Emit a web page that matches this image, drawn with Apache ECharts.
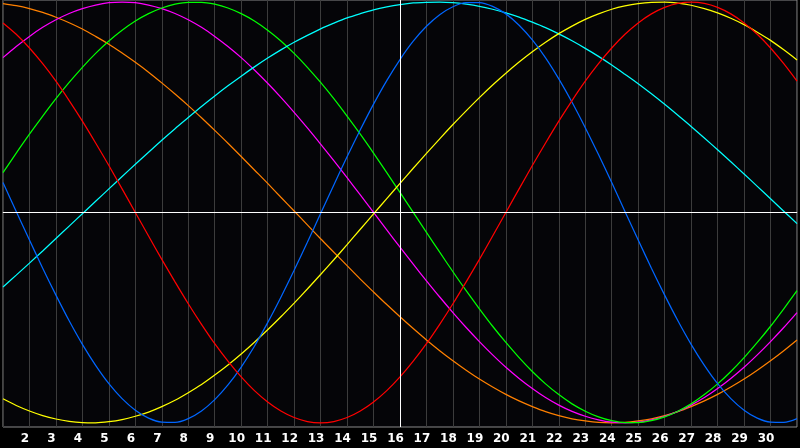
<!DOCTYPE html>
<html>
<head>
<meta charset="utf-8">
<script src="https://cdn.jsdelivr.net/npm/echarts@6/dist/echarts.min.js"></script>
<style>
html,body{margin:0;padding:0;background:#000;}
#chart{width:800px;height:448px;}
</style>
</head>
<body>
<div id="chart"></div>
<script>
const days = [1,1.5,2,2.5,3,3.5,4,4.5,5,5.5,6,6.5,7,7.5,8,8.5,9,9.5,10,10.5,11,11.5,12,12.5,13,13.5,14,14.5,15,15.5,16,16.5,17,17.5,18,18.5,19,19.5,20,20.5,21,21.5,22,22.5,23,23.5,24,24.5,25,25.5,26,26.5,27,27.5,28,28.5,29,29.5,30,30.5,31];
const tickDays = [1,2,3,4,5,6,7,8,9,10,11,12,13,14,15,16,17,18,19,20,21,22,23,24,25,26,27,28,29,30,31];
const tickLabels = ['','2','3','4','5','6','7','8','9','10','11','12','13','14','15','16','17','18','19','20','21','22','23','24','25','26','27','28','29','30',''];
const todayDay = 16;

const redValues = [0.901,0.847,0.782,0.707,0.624,0.532,0.434,0.330,0.223,0.112,0.000,-0.112,-0.223,-0.330,-0.434,-0.532,-0.624,-0.707,-0.782,-0.847,-0.901,-0.944,-0.975,-0.994,-1.000,-0.994,-0.975,-0.944,-0.901,-0.847,-0.782,-0.707,-0.624,-0.532,-0.434,-0.330,-0.223,-0.112,0.000,0.112,0.223,0.330,0.434,0.532,0.624,0.707,0.782,0.847,0.901,0.944,0.975,0.994,1.000,0.994,0.975,0.944,0.901,0.847,0.782,0.707,0.624];
const greenValues = [0.189,0.282,0.372,0.458,0.541,0.618,0.690,0.756,0.815,0.866,0.910,0.945,0.972,0.990,0.999,0.999,0.990,0.972,0.945,0.910,0.866,0.815,0.756,0.690,0.618,0.541,0.458,0.372,0.282,0.189,0.095,0.000,-0.095,-0.189,-0.282,-0.372,-0.458,-0.541,-0.618,-0.690,-0.756,-0.815,-0.866,-0.910,-0.945,-0.972,-0.990,-0.999,-0.999,-0.990,-0.972,-0.945,-0.910,-0.866,-0.815,-0.756,-0.690,-0.618,-0.541,-0.458,-0.372];
const magentaValues = [0.736,0.789,0.837,0.880,0.916,0.946,0.969,0.986,0.997,1.000,0.997,0.986,0.969,0.946,0.916,0.880,0.837,0.789,0.736,0.677,0.614,0.547,0.476,0.402,0.325,0.246,0.165,0.083,0.000,-0.083,-0.165,-0.246,-0.325,-0.402,-0.476,-0.547,-0.614,-0.677,-0.736,-0.789,-0.837,-0.880,-0.916,-0.946,-0.969,-0.986,-0.997,-1.000,-0.997,-0.986,-0.969,-0.946,-0.916,-0.880,-0.837,-0.789,-0.736,-0.677,-0.614,-0.547,-0.476];
const orangeValues = [0.993,0.983,0.969,0.951,0.928,0.902,0.872,0.837,0.800,0.758,0.714,0.667,0.616,0.563,0.508,0.450,0.390,0.329,0.266,0.202,0.138,0.072,0.007,-0.059,-0.125,-0.189,-0.253,-0.317,-0.378,-0.438,-0.496,-0.552,-0.606,-0.657,-0.705,-0.750,-0.792,-0.830,-0.865,-0.896,-0.923,-0.947,-0.966,-0.981,-0.991,-0.998,-1.000,-0.998,-0.991,-0.981,-0.966,-0.947,-0.923,-0.896,-0.865,-0.830,-0.792,-0.750,-0.705,-0.657,-0.606];
const blueValues = [0.142,0.005,-0.131,-0.265,-0.393,-0.515,-0.627,-0.727,-0.814,-0.885,-0.940,-0.978,-0.997,-0.998,-0.980,-0.944,-0.890,-0.820,-0.735,-0.636,-0.524,-0.403,-0.275,-0.142,-0.005,0.131,0.265,0.393,0.515,0.627,0.727,0.814,0.885,0.940,0.978,0.997,0.998,0.980,0.944,0.890,0.820,0.735,0.635,0.524,0.403,0.275,0.142,0.005,-0.131,-0.265,-0.393,-0.515,-0.627,-0.727,-0.814,-0.885,-0.940,-0.978,-0.997,-0.998,-0.980];
const yellowValues = [-0.886,-0.918,-0.944,-0.966,-0.982,-0.993,-0.999,-1.000,-0.995,-0.985,-0.969,-0.949,-0.923,-0.893,-0.857,-0.818,-0.773,-0.725,-0.673,-0.617,-0.558,-0.496,-0.431,-0.364,-0.295,-0.225,-0.153,-0.080,-0.007,0.066,0.138,0.210,0.281,0.350,0.418,0.483,0.546,0.606,0.662,0.715,0.764,0.809,0.850,0.886,0.918,0.944,0.966,0.982,0.993,0.999,1.000,0.995,0.985,0.969,0.949,0.923,0.893,0.857,0.818,0.773,0.725];
const cyanValues = [-0.354,-0.298,-0.241,-0.183,-0.124,-0.065,-0.006,0.053,0.112,0.171,0.229,0.286,0.343,0.398,0.451,0.504,0.554,0.602,0.648,0.692,0.734,0.773,0.809,0.842,0.873,0.900,0.925,0.945,0.963,0.977,0.988,0.996,0.999,1.000,0.997,0.990,0.980,0.966,0.949,0.929,0.905,0.879,0.849,0.816,0.780,0.742,0.701,0.657,0.612,0.564,0.514,0.462,0.409,0.354,0.298,0.241,0.183,0.124,0.065,0.006,-0.053];

const seriesDefs = [
  {name:'orange', color:'#ff8000', values: orangeValues},
  {name:'magenta', color:'#ff00ff', values: magentaValues},
  {name:'green', color:'#00ff00', values: greenValues},
  {name:'cyan', color:'#00ffff', values: cyanValues},
  {name:'yellow', color:'#ffff00', values: yellowValues},
  {name:'blue', color:'#0066ff', values: blueValues},
  {name:'red', color:'#ff0000', values: redValues}
];

const chart = echarts.init(document.getElementById('chart'), null, {renderer:'canvas'});
const series = seriesDefs.map(function(s){
  return {
    name: s.name,
    type: 'line',
    data: days.map(function(d,i){ return [d, s.values[i]]; }),
    smooth: 0.3,
    showSymbol: false,
    symbol: 'none',
    lineStyle: {color: s.color, width: 1.25},
    itemStyle: {color: s.color},
    silent: true
  };
});
series.push({
  type: 'line',
  data: [],
  silent: true,
  markLine: {
    silent: true,
    symbol: ['none','none'],
    label: {show:false},
    lineStyle: {color:'#ffffff', width:1, type:'solid'},
    data: [{xAxis: todayDay}, {yAxis: 0}]
  }
});

chart.setOption({
  animation: false,
  backgroundColor: '#000000',
  grid: {
    left: 0, right: 0, top: 0, bottom: 21,
    show: true,
    backgroundColor: '#050508',
    borderColor: '#8a8a8a',
    borderWidth: 1
  },
  xAxis: {
    type: 'value',
    min: 1, max: 31, interval: 1,
    axisLine: {show: true, lineStyle: {color:'#8a8a8a', width: 1}},
    axisTick: {show: false},
    splitLine: {show: true, lineStyle: {color:'#3c3c3c', width: 1}},
    axisLabel: {
      color: '#ffffff',
      fontFamily: 'DejaVu Sans',
      fontWeight: 'bold',
      fontSize: 12,
      margin: 6,
      padding: [0, 9, 0, 0],
      formatter: function(v){ return tickLabels[tickDays.indexOf(v)] || ''; }
    }
  },
  yAxis: {
    type: 'value',
    min: -1.02, max: 1.01,
    axisLine: {show: false},
    axisTick: {show: false},
    axisLabel: {show: false},
    splitLine: {show: false}
  },
  series: series
});
</script>
</body>
</html>
